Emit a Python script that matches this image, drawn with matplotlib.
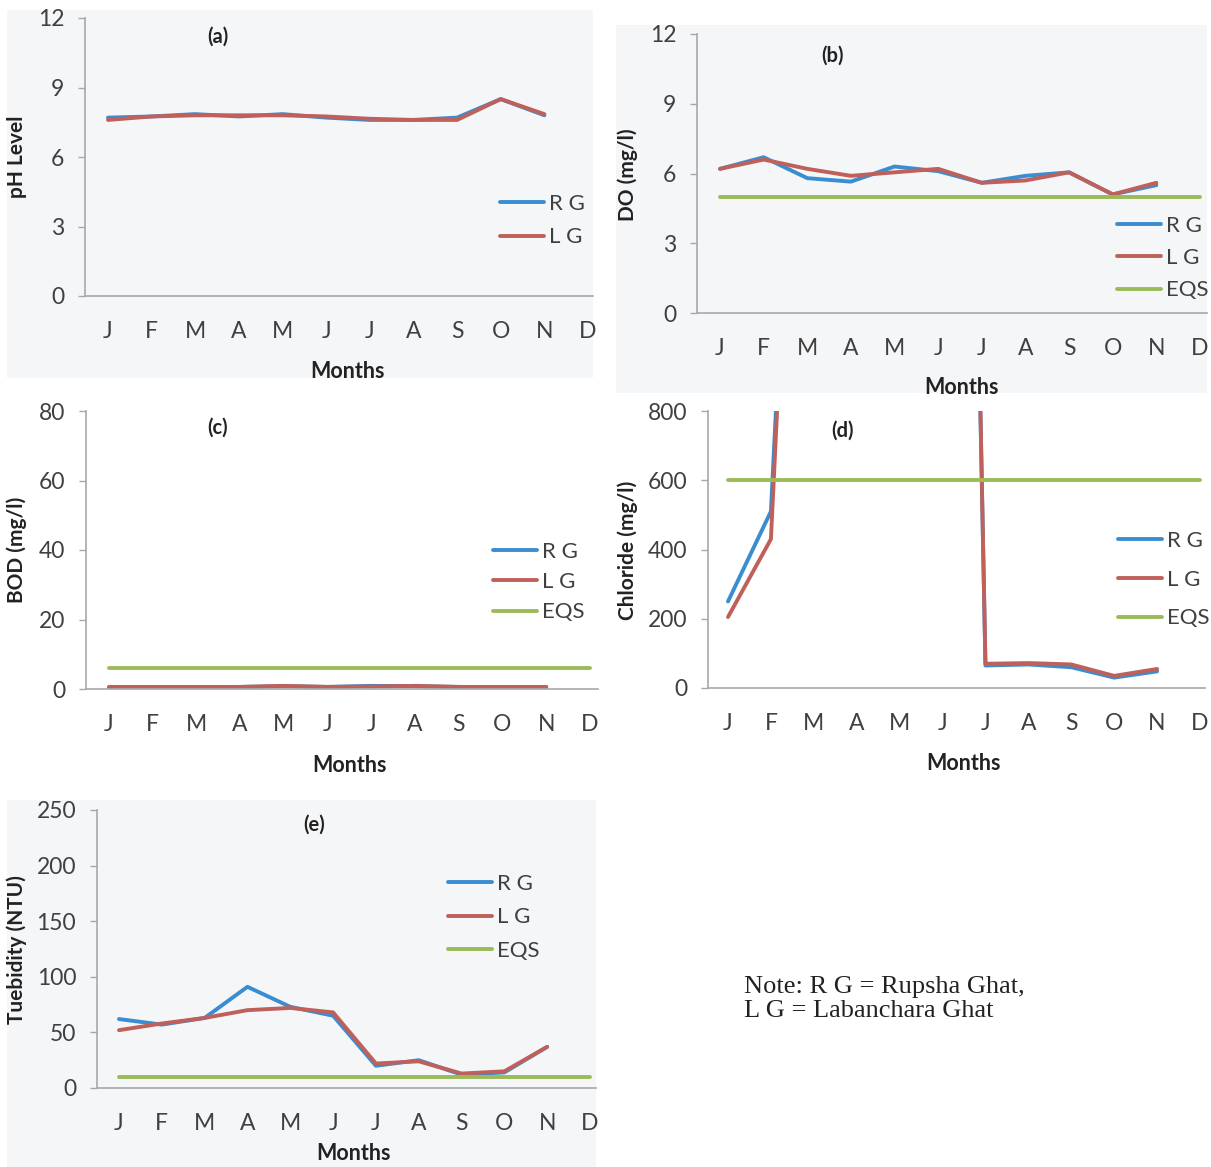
import matplotlib
matplotlib.use('Agg')
import matplotlib.pyplot as plt
from matplotlib.patches import Rectangle

plt.rcParams['font.family'] = ['Lato', 'DejaVu Sans']

months = ['J', 'F', 'M', 'A', 'M', 'J', 'J', 'A', 'S', 'O', 'N', 'D']
x_all = list(range(12))
x_data = list(range(11))

# pH
ph_rg = [7.7, 7.75, 7.85, 7.75, 7.85, 7.7, 7.6, 7.6, 7.7, 8.5, 7.8]
ph_lg = [7.6, 7.75, 7.8, 7.8, 7.8, 7.75, 7.65, 7.6, 7.6, 8.5, 7.85]
# DO
do_rg = [6.2, 6.7, 5.8, 5.65, 6.3, 6.1, 5.6, 5.9, 6.05, 5.1, 5.5]
do_lg = [6.2, 6.6, 6.2, 5.9, 6.05, 6.2, 5.6, 5.7, 6.05, 5.1, 5.6]
do_eqs = 5
# BOD
bod_rg = [0.5, 0.5, 0.5, 0.6, 0.8, 0.6, 0.9, 0.8, 0.6, 0.5, 0.6]
bod_lg = [0.6, 0.6, 0.6, 0.6, 0.9, 0.6, 0.7, 0.9, 0.6, 0.6, 0.6]
bod_eqs = 6
# Chloride (Mar-Jun run off the top of the chart)
cl_rg = [250, 510, 3000, 4000, 5000, 6300, 65, 68, 60, 30, 48]
cl_lg = [205, 430, 3000, 4000, 5000, 6300, 70, 72, 68, 35, 55]
cl_eqs = 600
# Turbidity
tu_rg = [62, 57, 63, 91, 73, 65, 20, 25, 12, 14, 37]
tu_lg = [52, 58, 63, 70, 72, 68, 22, 24, 13, 15, 37]
tu_eqs = 10

BLUE = '#3a8dd0'
RED = '#c0605a'
GREEN = '#9bbb59'
AXC = '#a6a8ab'
TXT = '#404040'
BG = '#f5f6f8'

W, H = 1211, 1167
fig = plt.figure(figsize=(W / 100, H / 100), dpi=100)

# grey backgrounds behind panels (a), (b), (e)
for x0, y0, x1, y1 in [(7, 10, 593, 378), (616, 25, 1207, 393), (7, 800, 596, 1167)]:
    fig.patches.append(Rectangle((x0 / W, 1 - y1 / H), (x1 - x0) / W, (y1 - y0) / H,
                                 transform=fig.transFigure, facecolor=BG,
                                 edgecolor='none', zorder=-5))


def panel(geo, rg, lg, eqs, ymax, ystep, ylabel, tag, leg, ylab_xy, tag_xy, months_xy):
    left, right, top, bottom, xj, xd = geo
    sp = (xd - xj) / 11
    ax = fig.add_axes([left / W, 1 - bottom / H, (right - left) / W, (bottom - top) / H])
    ax.set_zorder(2)
    ax.set_facecolor('none')
    ax.set_xlim(-(xj - left) / sp, 11 + (right - xd) / sp)
    ax.set_ylim(0, ymax)

    def fx(px):
        return (px - left) / (right - left)

    def fy(py):
        return (bottom - py) / (bottom - top)

    handles = []
    h1, = ax.plot(x_data, rg, color=BLUE, lw=2.8, solid_capstyle='round', label='R G')
    h2, = ax.plot(x_data, lg, color=RED, lw=2.8, solid_capstyle='round', label='L G')
    handles += [h1, h2]
    if eqs is not None:
        h3, = ax.plot(x_all, [eqs] * 12, color=GREEN, lw=2.8, solid_capstyle='round', label='EQS')
        handles.append(h3)

    for s in ['top', 'right']:
        ax.spines[s].set_visible(False)
    for s in ['left', 'bottom']:
        ax.spines[s].set_color(AXC)
        ax.spines[s].set_linewidth(1.2)
    ax.set_yticks(list(range(0, ymax + 1, ystep)))
    ax.set_xticks(x_all)
    ax.set_xticklabels(months)
    ax.tick_params(axis='y', length=5, width=1, color=AXC, labelsize=16.5,
                   labelcolor=TXT, pad=10)
    ax.tick_params(axis='x', length=0, labelsize=16.5, labelcolor=TXT, pad=18)

    ax.text(fx(ylab_xy[0]), fy(ylab_xy[1]), ylabel, transform=ax.transAxes, rotation=90,
            ha='center', va='center', fontsize=15, fontweight='bold', color='#222222')
    ax.text(fx(tag_xy[0]), fy(tag_xy[1]), tag, transform=ax.transAxes,
            ha='center', va='center', fontsize=14.5, fontweight='bold', color='#222222')
    ax.text(fx(months_xy[0]), fy(months_xy[1]), 'Months', transform=ax.transAxes,
            ha='center', va='center', fontsize=15.5, fontweight='bold', color='#222222')

    lx, ly, spacing = leg
    ax.legend(handles=handles, loc='upper left', bbox_to_anchor=(fx(lx), fy(ly)),
              frameon=False, fontsize=16, handlelength=2.0, handletextpad=0.2,
              borderpad=0, borderaxespad=0, labelspacing=spacing, labelcolor=TXT)
    return ax


panel((85, 593, 18, 296, 108, 588), ph_rg, ph_lg, None, 12, 3, 'pH Level', '(a)',
      (500, 194, 0.6), (17, 157), (218, 37), (348, 372))
panel((697, 1207, 34, 313, 720, 1200), do_rg, do_lg, do_eqs, 12, 3, 'DO (mg/l)', '(b)',
      (1117, 216, 0.55), (628, 175), (833, 56), (961, 388))
panel((86, 598, 411, 689, 109, 590), bod_rg, bod_lg, bod_eqs, 80, 20, 'BOD (mg/l)', '(c)',
      (493, 542, 0.46), (17, 550), (218, 428), (349, 765))
panel((708, 1205, 411, 688, 728, 1200), cl_rg, cl_lg, cl_eqs, 800, 200, 'Chloride (mg/l)', '(d)',
      (1118, 531, 0.84), (628, 550), (842, 431), (964, 764))
panel((97, 596, 810, 1088, 119, 590), tu_rg, tu_lg, tu_eqs, 250, 50, 'Tuebidity (NTU)', '(e)',
      (448, 874, 0.6), (17, 950), (314, 825), (354, 1154))

fig.text(744 / W, 1 - 999 / H, 'Note: R G = Rupsha Ghat,\nL G = Labanchara Ghat',
         ha='left', va='center', fontsize=19, family='Liberation Serif', color='#222222',
         linespacing=1.12)

fig.savefig('out.png', dpi=100)
